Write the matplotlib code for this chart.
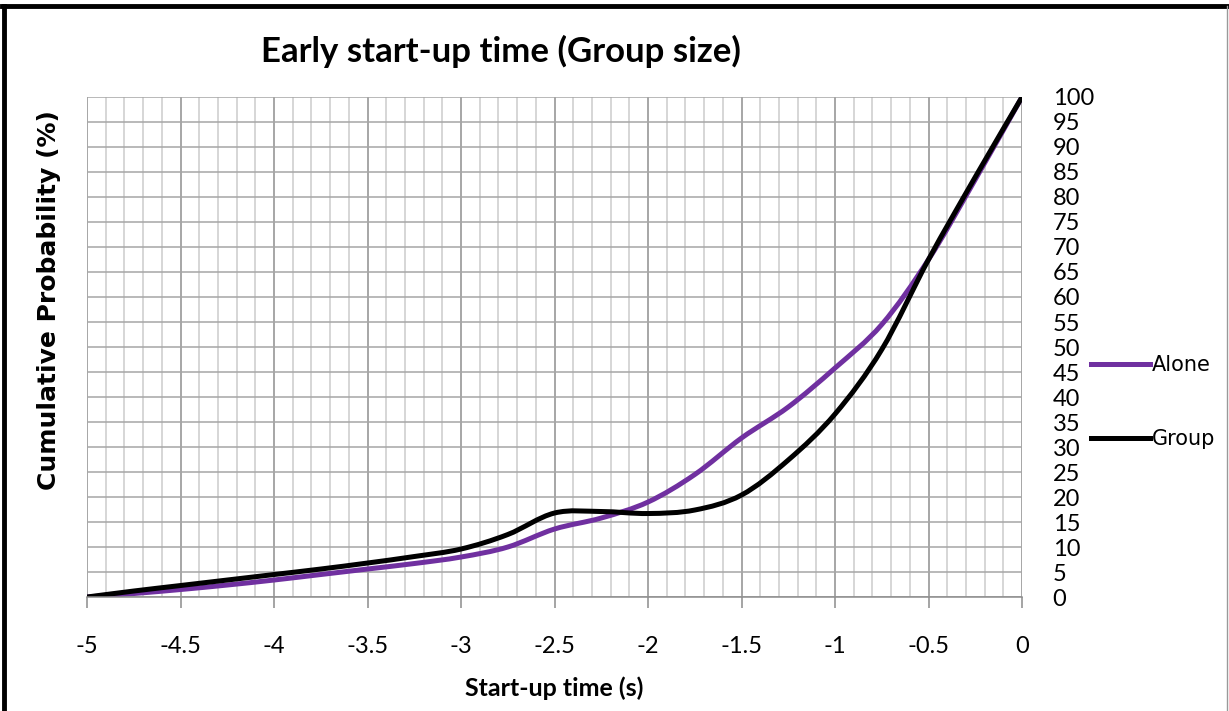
import numpy as np
import matplotlib.pyplot as plt
from matplotlib.lines import Line2D
from matplotlib.path import Path
from matplotlib.patches import PathPatch

# start-up time (s)
times = [-5, -4.75, -4.5, -4.25, -4, -3.75, -3.5, -3.25, -3, -2.75, -2.5,
         -2.25, -2, -1.75, -1.5, -1.25, -1, -0.75, -0.5, -0.25, 0]
# cumulative probability (%)
alone = [0, 0.7, 1.5, 2.4, 3.4, 4.5, 5.6, 6.7, 8.0, 10.0, 13.6,
         15.8, 19.0, 24.5, 31.8, 38.0, 45.8, 54.5, 67.5, 83.5, 100]
group = [0, 1.2, 2.3, 3.4, 4.5, 5.6, 6.8, 8.1, 9.6, 12.5, 16.8,
         17.1, 16.7, 17.4, 20.4, 27.4, 36.6, 49.5, 67.5, 84.0, 100]

x_ticks = [-5, -4.5, -4, -3.5, -3, -2.5, -2, -1.5, -1, -0.5, 0]
x_labels = ['-5', '-4.5', '-4', '-3.5', '-3', '-2.5', '-2', '-1.5', '-1', '-0.5', '0']
y_ticks = list(range(0, 101, 5))


def smooth_path(xs, ys, tension=1 / 6):
    # Excel-like smoothed line: cubic bezier through the points
    pts = np.column_stack([xs, ys]).astype(float)
    verts = [pts[0]]
    codes = [Path.MOVETO]
    n = len(pts)
    for i in range(n - 1):
        p0 = pts[max(i - 1, 0)]
        p1 = pts[i]
        p2 = pts[i + 1]
        p3 = pts[min(i + 2, n - 1)]
        c1 = p1 + (p2 - p0) * tension
        c2 = p2 - (p3 - p1) * tension
        verts += [c1, c2, p2]
        codes += [Path.CURVE4] * 3
    return Path(verts, codes)


plt.rcParams['font.family'] = ['Lato', 'DejaVu Sans']

fig = plt.figure(figsize=(12.29, 7.11), dpi=100)
ax = fig.add_axes([0.0708, 0.1603, 0.7608, 0.7033])

# grid: light minor verticals, darker major verticals, horizontals every 5
for xm in np.arange(-5, 0.001, 0.1):
    ax.axvline(xm, color='#cccccc', lw=1.1, zorder=0)
for xm in x_ticks:
    ax.axvline(xm, color='#9a9a9a', lw=1.1, zorder=0)
for ym in y_ticks:
    ax.axhline(ym, color='#a6a6a6', lw=1.1, zorder=0)

colors = {'Alone': '#7030a0', 'Group': 'black'}
for name, vals in [('Alone', alone), ('Group', group)]:
    ax.add_patch(PathPatch(smooth_path(times, vals), fill=False,
                           edgecolor=colors[name], lw=3.6, capstyle='round'))

ax.set_xlim(-5, 0)
ax.set_ylim(0, 100)
ax.set_xticks(x_ticks)
ax.set_xticklabels(x_labels)
ax.set_yticks(y_ticks)
ax.yaxis.tick_right()
ax.tick_params(axis='x', direction='out', length=8, color='#8c8c8c', width=1.1,
               labelsize=17, pad=20)
ax.tick_params(axis='y', length=0, labelsize=17, pad=22)
for t in ax.get_yticklabels():
    t.set_horizontalalignment('left')

for s in ['top', 'right', 'left']:
    ax.spines[s].set_visible(False)
ax.spines['bottom'].set_color('#8c8c8c')
ax.spines['bottom'].set_linewidth(1.1)

ax.set_xlabel('Start-up time (s)', fontsize=18, fontweight='bold', labelpad=14)
fig.text(0.0395, 0.578, 'Cumulative Probability (%)', rotation=90, fontsize=18,
         fontweight='bold', ha='center', va='center', family='DejaVu Sans')
fig.text(0.408, 0.928, 'Early start-up time (Group size)', fontsize=25,
         fontweight='bold', ha='center', va='center')

handles = [Line2D([], [], color=colors[k], lw=3.6) for k in ['Alone', 'Group']]
ax.legend(handles, ['Alone', 'Group'], loc='center left',
          bbox_to_anchor=(1.074, 0.39), frameon=False,
          prop={'family': 'DejaVu Sans', 'size': 15},
          handlelength=2.8, handletextpad=0.1, labelspacing=2.6,
          borderaxespad=0, borderpad=0)

# outer frame
fig.add_artist(Line2D([0.002, 1.0], [0.991, 0.991], color='black', lw=3.5))
fig.add_artist(Line2D([0.003, 0.003], [0.0, 0.991], color='black', lw=3.5))
fig.add_artist(Line2D([0.9985, 0.9985], [0.0, 0.991], color='#999999', lw=1.0))

fig.savefig('out.png', dpi=100)
